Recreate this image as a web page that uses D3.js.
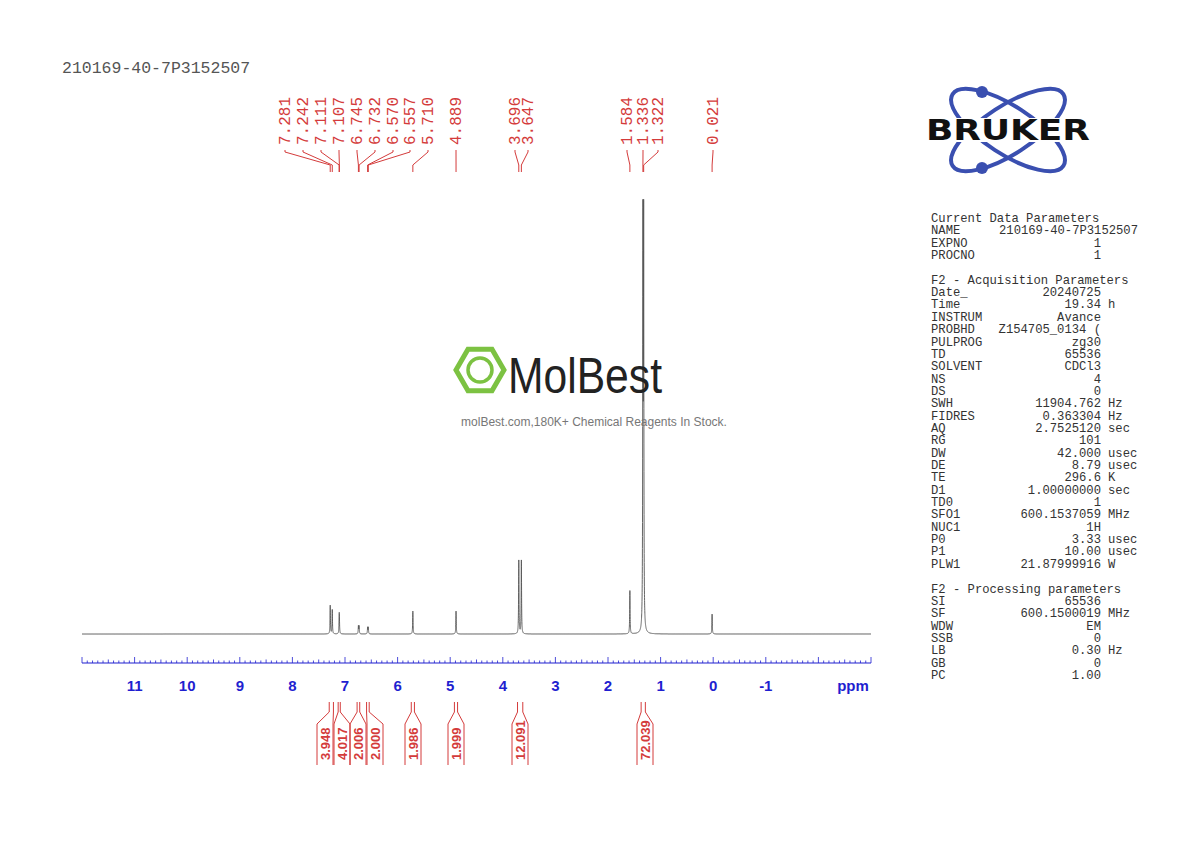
<!DOCTYPE html>
<html><head><meta charset="utf-8">
<script src="https://cdn.jsdelivr.net/npm/d3@7"></script>
<style>body{margin:0;background:#fff}</style>
</head><body><div id="chart"></div>
<script>
// peak list: shift (ppm) and relative height (100 = tallest)
const peakShifts = [7.281, 7.242, 7.111, 7.107, 6.745, 6.732, 6.570, 6.557, 5.710, 4.889, 3.696, 3.647, 1.584, 1.336, 1.322, 0.021];
const peakHeights = [6.6, 5.6, 3.0, 3.0, 1.8, 1.8, 1.5, 1.5, 5.3, 5.3, 17, 17, 10, 92, 92, 4.6];
const labelShifts = ["7.281", "7.242", "7.111", "7.107", "6.745", "6.732", "6.570", "6.557", "5.710", "4.889", "3.696", "3.647", "1.584", "1.336", "1.322", "0.021"];
// integrals: region [from, to] and value
const intFrom = [7.30, 7.13, 6.77, 6.59, 5.74, 4.92, 3.72, 1.37];
const intTo = [7.22, 7.09, 6.72, 6.54, 5.68, 4.86, 3.62, 1.29];
const intValues = ["3.948", "4.017", "2.006", "2.000", "1.986", "1.999", "12.091", "72.039"];
const axisTicks = [11, 10, 9, 8, 7, 6, 5, 4, 3, 2, 1, 0, -1];

const params = [
  ["Current Data Parameters", "", ""],
  ["NAME", "210169-40-7P3152507", ""],
  ["EXPNO", "1", ""],
  ["PROCNO", "1", ""],
  null,
  ["F2 - Acquisition Parameters", "", ""],
  ["Date_", "20240725", ""],
  ["Time", "19.34", "h"],
  ["INSTRUM", "Avance", ""],
  ["PROBHD", "Z154705_0134 (", ""],
  ["PULPROG", "zg30", ""],
  ["TD", "65536", ""],
  ["SOLVENT", "CDCl3", ""],
  ["NS", "4", ""],
  ["DS", "0", ""],
  ["SWH", "11904.762", "Hz"],
  ["FIDRES", "0.363304", "Hz"],
  ["AQ", "2.7525120", "sec"],
  ["RG", "101", ""],
  ["DW", "42.000", "usec"],
  ["DE", "8.79", "usec"],
  ["TE", "296.6", "K"],
  ["D1", "1.00000000", "sec"],
  ["TD0", "1", ""],
  ["SFO1", "600.1537059", "MHz"],
  ["NUC1", "1H", ""],
  ["P0", "3.33", "usec"],
  ["P1", "10.00", "usec"],
  ["PLW1", "21.87999916", "W"],
  null,
  ["F2 - Processing parameters", "", ""],
  ["SI", "65536", ""],
  ["SF", "600.1500019", "MHz"],
  ["WDW", "EM", ""],
  ["SSB", "0", ""],
  ["LB", "0.30", "Hz"],
  ["GB", "0", ""],
  ["PC", "1.00", ""]
];

const W = 1190, H = 842;
const svg = d3.select("#chart").append("svg").attr("width", W).attr("height", H);
const x = d3.scaleLinear().domain([12, -3]).range([82, 871]);
const y = d3.scaleLinear().domain([0, 100]).range([634, 202]);
const red = "#d43b3b", blue = "#1f1fd0", mono = "'Liberation Mono', monospace";

svg.append("text").attr("x", 62).attr("y", 73).attr("font-family", mono)
  .attr("font-size", 16.5).attr("fill", "#555").text("210169-40-7P3152507");

// spectrum
const hw = 0.0045;
const samples = d3.range(-3, 12.0001, 0.0008).concat(peakShifts).sort((a, b) => b - a);
const spec = samples.map(p => [p, d3.sum(peakShifts, (c, i) => peakHeights[i] / (1 + ((p - c) / hw) ** 2))]);
svg.append("path").datum(spec).attr("fill", "none").attr("stroke", "#555").attr("stroke-width", 0.9)
  .attr("d", d3.line().x(d => x(d[0])).y(d => y(d[1])));

// axis
const ay = 663;
svg.append("line").attr("x1", 82).attr("x2", 871).attr("y1", ay).attr("y2", ay).attr("stroke", blue).attr("stroke-width", 1.2);
const minor = d3.range(-30, 121).map(v => v / 10);
svg.selectAll(".mt").data(minor).join("line")
  .attr("x1", d => x(d)).attr("x2", d => x(d)).attr("y1", ay)
  .attr("y2", d => ay - (Math.abs(d - Math.round(d)) < 1e-6 ? 6 : (Math.abs(d * 2 - Math.round(d * 2)) < 1e-6 ? 3.5 : 2.5)))
  .attr("stroke", blue).attr("stroke-width", 0.8);
svg.selectAll(".tl").data(axisTicks).join("text")
  .attr("x", d => x(d)).attr("y", 691).attr("text-anchor", "middle")
  .attr("font-family", "Liberation Sans, Arial").attr("font-weight", "bold").attr("font-size", 15)
  .attr("fill", blue).text(d => d);
svg.append("text").attr("x", 853).attr("y", 691).attr("text-anchor", "middle")
  .attr("font-family", "Liberation Sans, Arial").attr("font-weight", "bold").attr("font-size", 15)
  .attr("fill", blue).text("ppm");

// peak labels (label columns fanned out like TopSpin)
const labelCols = [285, 303, 321, 339, 357, 375, 393, 410, 428, 456, 515, 528, 627, 643, 658, 713];
const gl = svg.append("g");
labelShifts.forEach((t, i) => {
  const lx = labelCols[i];
  const px = x(peakShifts[i]);
  gl.append("text").attr("transform", `translate(${lx + 5},145) rotate(-90)`)
    .attr("font-family", mono).attr("font-size", 16).attr("fill", red).text(t);
  gl.append("path").attr("fill", "none").attr("stroke", red).attr("stroke-width", 1)
    .attr("d", `M${lx},150 L${lx},152 L${px},165 L${px},172`);
});

// integrals
const intCols = [325, 342, 358, 375, 413, 456, 520, 645];
const gi = svg.append("g");
intValues.forEach((v, i) => {
  const a = x(intFrom[i]), b = x(intTo[i]), m = intCols[i];
  const w = 8;
  gi.append("path").attr("fill", "none").attr("stroke", red).attr("stroke-width", 1)
    .attr("d", `M${a},702 L${a},712 L${m - w},724 L${m - w},765 M${b},702 L${b},712 L${m + w},724 L${m + w},765`);
  gi.append("text").attr("transform", `translate(${m + 5},760) rotate(-90)`)
    .attr("font-family", "Liberation Sans, Arial").attr("font-weight", "bold").attr("font-size", 13)
    .attr("fill", red).text(v);
});

// parameters panel
const gp = svg.append("g").attr("font-family", mono).attr("font-size", 12.2).attr("fill", "#333");
params.forEach((r, i) => {
  if (!r) return;
  const yy = 222 + i * 12.35;
  gp.append("text").attr("x", 931).attr("y", yy).text(r[0]);
  if (r[1]) gp.append("text").attr("x", r[0] === "NAME" ? 1138 : 1101).attr("y", yy).attr("text-anchor", "end").text(r[1]);
  if (r[2]) gp.append("text").attr("x", 1108).attr("y", yy).text(r[2]);
});

// Bruker logo
const gb = svg.append("g").attr("transform", "translate(1008,130)");
const orbit = "#3a4fb0";
gb.append("ellipse").attr("rx", 66).attr("ry", 24).attr("transform", "rotate(33)")
  .attr("fill", "none").attr("stroke", orbit).attr("stroke-width", 4);
gb.append("ellipse").attr("rx", 66).attr("ry", 24).attr("transform", "rotate(-33)")
  .attr("fill", "none").attr("stroke", orbit).attr("stroke-width", 4);
gb.append("circle").attr("cx", -26).attr("cy", -38).attr("r", 6).attr("fill", orbit);
gb.append("circle").attr("cx", -26).attr("cy", 38).attr("r", 6).attr("fill", orbit);
gb.append("rect").attr("x", -84).attr("y", -12).attr("width", 168).attr("height", 24).attr("fill", "#fff");
gb.append("text").attr("x", -82).attr("y", 10).attr("textLength", 164).attr("lengthAdjust", "spacingAndGlyphs")
  .attr("font-family", "DejaVu Sans, sans-serif").attr("font-weight", "bold").attr("font-size", 28)
  .attr("fill", "#111").text("BRUKER");

// watermark
const gw = svg.append("g");
const hex = d3.range(6).map(k => [480 + 24 * Math.cos(Math.PI / 3 * k), 370 + 24 * Math.sin(Math.PI / 3 * k)]);
gw.append("polygon").attr("points", hex.join(" ")).attr("fill", "#fff").attr("stroke", "#7cc242").attr("stroke-width", 5);
gw.append("circle").attr("cx", 480).attr("cy", 370).attr("r", 12).attr("fill", "none").attr("stroke", "#7cc242").attr("stroke-width", 3.5);
gw.append("text").attr("x", 508).attr("y", 393).attr("font-family", "Liberation Sans Narrow, Liberation Sans, sans-serif")
  .attr("font-size", 50).attr("textLength", 154).attr("lengthAdjust", "spacingAndGlyphs").attr("fill", "#222").text("MolBest");
gw.append("text").attr("x", 594).attr("y", 426).attr("text-anchor", "middle")
  .attr("font-family", "Liberation Sans, Arial").attr("font-size", 12).attr("fill", "#777")
  .text("molBest.com,180K+ Chemical Reagents In Stock.");
</script></body></html>
